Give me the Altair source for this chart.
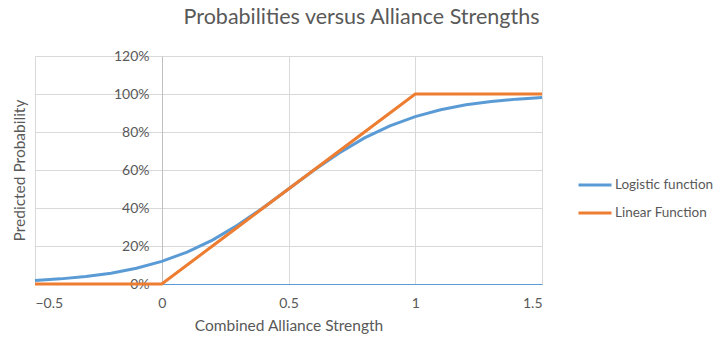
import altair as alt
import pandas as pd

x_vals = [-0.5, -0.4, -0.3, -0.2, -0.1, 0.0, 0.1, 0.2, 0.3, 0.4, 0.5,
          0.6, 0.7, 0.8, 0.9, 1.0, 1.1, 1.2, 1.3, 1.4, 1.5]
logistic = [0.018, 0.027, 0.039, 0.057, 0.083, 0.119, 0.168, 0.231, 0.310, 0.401, 0.500,
            0.599, 0.690, 0.769, 0.832, 0.881, 0.917, 0.943, 0.961, 0.973, 0.982]
linear = [0.0, 0.0, 0.0, 0.0, 0.0, 0.0, 0.1, 0.2, 0.3, 0.4, 0.5,
          0.6, 0.7, 0.8, 0.9, 1.0, 1.0, 1.0, 1.0, 1.0, 1.0]
series_names = ["Logistic function", "Linear Function"]
series_colors = ["#5b9bd5", "#ed7d31"]
x_ticks = [-0.5, 0, 0.5, 1, 1.5]
y_ticks = [0, 0.2, 0.4, 0.6, 0.8, 1.0, 1.2]

rows = []
for xv, a, b in zip(x_vals, logistic, linear):
    rows.append({"x": xv, "p": a, "series": series_names[0]})
    rows.append({"x": xv, "p": b, "series": series_names[1]})
df = pd.DataFrame(rows)

FONT = "Lato"
TXT = "#595959"
GRID = "#d9d9d9"

chart = alt.Chart(df).mark_line(strokeWidth=3).encode(
    x=alt.X("x:Q", scale=alt.Scale(domain=[-0.5, 1.5], nice=False),
            axis=alt.Axis(values=x_ticks, title="Combined Alliance Strength",
                          format="~g", ticks=False, labelPadding=12,
                          domainColor="#5b9bd5", domainWidth=1,
                          gridColor=GRID, titlePadding=8)),
    y=alt.Y("p:Q", scale=alt.Scale(domain=[0, 1.2], nice=False),
            axis=alt.Axis(values=y_ticks, format=".0%", title="Predicted Probability",
                          ticks=False, labelPadding=13, offset=-127,
                          domainColor="#bfbfbf", gridColor=GRID,
                          titleX=-150, titleY=114, titleAlign="center",
                          titleBaseline="top")),
    color=alt.Color("series:N",
                    scale=alt.Scale(domain=series_names, range=series_colors),
                    legend=alt.Legend(title=None, orient="none", legendX=542, legendY=111,
                                      symbolType="stroke", symbolSize=1089,
                                      symbolStrokeWidth=3, labelFontSize=13.5,
                                      labelColor=TXT, labelFont=FONT, rowPadding=3,
                                      labelOffset=2)),
    order="x:Q",
).properties(
    width=507, height=228,
    title=alt.TitleParams("Probabilities versus Alliance Strengths", fontSize=21.5,
                          font=FONT, color=TXT, fontWeight="normal", dx=73, offset=21),
    autosize=alt.AutoSizeParams(type="none"),
    padding={"left": 35, "top": 56, "right": 181, "bottom": 70},
).configure_axis(
    labelFont=FONT, labelFontSize=14, labelColor=TXT,
    titleFont=FONT, titleFontSize=15.5, titleColor=TXT, titleFontWeight="normal",
).configure_view(stroke=None)

chart.save("out.html", embed_options={"renderer": "svg", "actions": False})
